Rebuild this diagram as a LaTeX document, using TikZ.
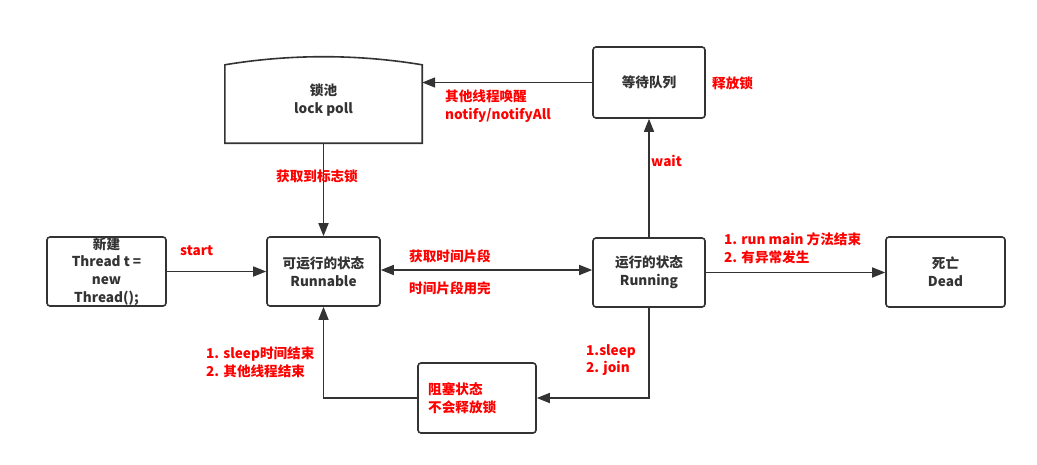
\documentclass[tikz,border=0pt]{standalone}
\usepackage{fontspec}
\setmainfont{Noto Sans CJK SC}
\usepackage{tikz}
\usetikzlibrary{positioning, arrows.meta}
\definecolor{lineGrey}{HTML}{333333}
\definecolor{noteRed}{HTML}{FF0000}

\begin{document}
\begin{tikzpicture}[x=1pt, y=-1pt,
  font=\fontsize{13.6}{17.8}\selectfont\bfseries,
  state/.style={draw=lineGrey, line width=1.6pt, rounded corners=3pt,
    text=lineGrey, align=center, inner sep=0pt},
  note/.style={text=noteRed, align=left, anchor=west, inner sep=0pt},
  arr/.style={-{Triangle[length=13pt, width=10pt]}, lineGrey, line width=1.6pt}]

\useasboundingbox (0,0) rectangle (1037,464);

% states
\node[state, minimum width=119, minimum height=69] (new) at (106.5,271.5)
  {新建\\Thread t =\\new\\Thread();};
\node[state, minimum width=113, minimum height=69] (runnable) at (323.5,271.5)
  {可运行的状态\\Runnable};
\node[state, minimum width=112, minimum height=69] (running) at (649,272.5)
  {运行的状态\\Running};
\node[state, minimum width=119, minimum height=70] (dead) at (945.5,272)
  {死亡\\Dead};
\node[state, minimum width=112, minimum height=71] (waitq) at (649,82.5)
  {等待队列};
\node[state, minimum width=118, minimum height=70] (block) at (477,398) {};
\node[note, text=noteRed] (blocktext) at (428,398) {阻塞状态\\不会释放锁};

% lock pool (curved top)
\node[text=lineGrey, align=center, minimum width=197, minimum height=86,
  inner sep=0pt] (pool) at (323.5,100) {锁池\\lock poll};
\draw[lineGrey, line width=1.6pt]
  (pool.south west) -- ([yshift=-8]pool.north west)
  .. controls (290,54) and (357,54) .. ([yshift=-8]pool.north east)
  -- (pool.south east) -- cycle;

% connectors
\draw[arr] (pool.south) -- (runnable.north);
\draw[arr] (new.east) -- (new.east -| runnable.west);
\draw[arr, {Triangle[length=13pt, width=10pt]}-{Triangle[length=13pt, width=10pt]}]
  (runnable.east |- 0,270) -- (running.west |- 0,270);
\draw[arr] (running.north) -- (waitq.south);
\draw[arr] (waitq.west) -- (waitq.west -| pool.east);
\draw[arr] (running.east) -- (running.east -| dead.west);
\draw[arr] (running.south) |- (block.east);
\draw[arr] (block.west) -| (runnable.south);

% labels
\node[note] (lstart) at (180,251) {start};
\node[note] (lget) at (409,256) {获取时间片段};
\node[note] (lused) at (409,288) {时间片段用完};
\node[note] (lwait) at (651,161) {wait};
\node[note] (lnotify) at (445,106) {其他线程唤醒\\notify/notifyAll};
\node[note] (lrelease) at (712,83) {释放锁};
\node[note] (lend) at (724,248) {1. run main 方法结束\\2. 有异常发生};
\node[note] (lsleep) at (586,360) {1.sleep\\2. join};
\node[note] (lwake) at (206,362) {1. sleep时间结束\\2. 其他线程结束};
\node[text=noteRed, inner sep=0pt] (llock) at (317,176) {获取到标志锁};
\end{tikzpicture}
\end{document}
